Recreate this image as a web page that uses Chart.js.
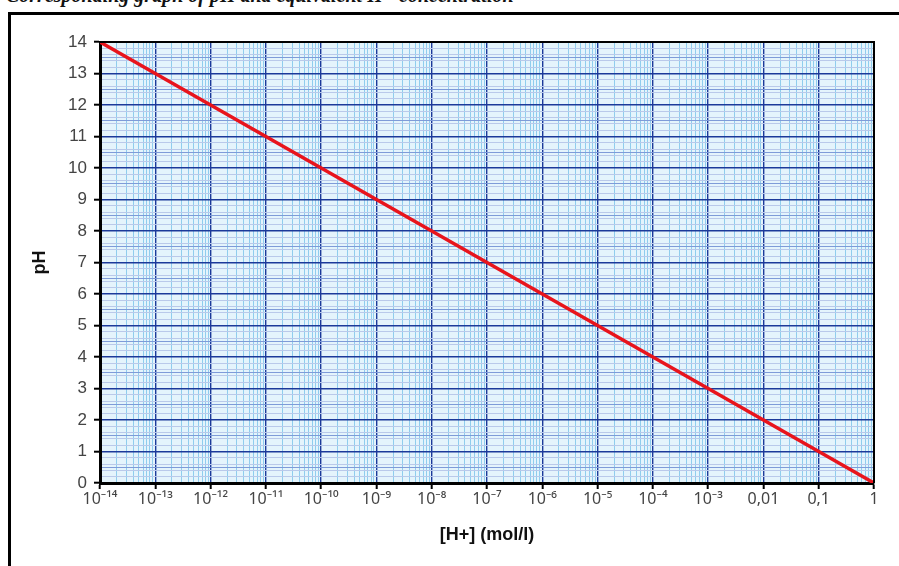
<!DOCTYPE html>
<html>
<head>
<meta charset="utf-8">
<script src="https://cdn.jsdelivr.net/npm/chart.js@4.4.0/dist/chart.umd.min.js"></script>
<style>
    body { margin: 0; width: 899px; height: 566px; overflow: hidden; background: #fff; }
    #heading { position: absolute; left: 6px; top: -16px; font: italic bold 20px "Liberation Serif", "Times New Roman", serif; color: #111; white-space: nowrap; }
    #frame { position: absolute; left: 8px; top: 12px; width: 1000px; height: 700px; border-left: 3px solid #000; border-top: 3px solid #000; }
    #wrap { position: absolute; left: 0; top: 0; width: 899px; height: 566px; }
</style>
</head>
<body>
<div id="heading">Corresponding graph of pH and equivalent H+ concentration</div>
<div id="frame"></div>
<div id="wrap"><canvas id="chart" width="899" height="566"></canvas></div>
<script>
// valeurs
const concentrations = [1e-14, 1e-13, 1e-12, 1e-11, 1e-10, 1e-9, 1e-8, 1e-7, 1e-6, 1e-5, 1e-4, 1e-3, 0.01, 0.1, 1];
const phValues = [14, 13, 12, 11, 10, 9, 8, 7, 6, 5, 4, 3, 2, 1, 0];
const xTickLabels = ['10⁻¹⁴', '10⁻¹³', '10⁻¹²', '10⁻¹¹', '10⁻¹⁰', '10⁻⁹', '10⁻⁸', '10⁻⁷', '10⁻⁶', '10⁻⁵', '10⁻⁴', '10⁻³', '0,01', '0,1', '1'];
const yTickLabels = ['0', '1', '2', '3', '4', '5', '6', '7', '8', '9', '10', '11', '12', '13', '14'];

function isDecade(v) {
    const l = Math.log10(v);
    return Math.abs(l - Math.round(l)) < 1e-6;
}

function yKind(v) {
    const t = Math.round(v * 10);
    if (t % 10 === 0) return 'major';
    if (t % 5 === 0) return 'half';
    if (t % 2 === 0) return 'minor';
    return 'none';
}

// fond et cadre de la zone du graphique
const paperPlugin = {
    id: 'paper',
    beforeDraw(chart) {
        const { ctx, chartArea: a } = chart;
        ctx.save();
        ctx.fillStyle = '#e4f4fc';
        ctx.fillRect(a.left, a.top, a.right - a.left, a.bottom - a.top);
        ctx.restore();
    },
    afterDatasetsDraw(chart) {
        const { ctx, chartArea: a } = chart;
        ctx.save();
        ctx.strokeStyle = '#000';
        ctx.lineWidth = 2;
        ctx.beginPath();
        ctx.moveTo(a.left, a.top);
        ctx.lineTo(a.right, a.top);
        ctx.lineTo(a.right, a.bottom);
        ctx.stroke();
        ctx.restore();
    }
};

const ctx = document.getElementById('chart').getContext('2d');
new Chart(ctx, {
    type: 'line',
    data: {
        datasets: [{
            data: concentrations.map((c, i) => ({ x: c, y: phValues[i] })),
            borderColor: '#e8141c',
            borderWidth: 3.5,
            pointRadius: 0,
            tension: 0
        }]
    },
    options: {
        responsive: false,
        animation: false,
        devicePixelRatio: 1,
        layout: { padding: { left: 0, top: 42, right: 25, bottom: 0 } },
        plugins: { legend: { display: false }, tooltip: { enabled: false } },
        scales: {
            x: {
                type: 'logarithmic',
                min: 1e-14,
                max: 1,
                afterBuildTicks(scale) {
                    const ticks = [];
                    for (let e = -14; e <= 0; e++) {
                        for (let m = 1; m <= 9; m++) {
                            const v = m * Math.pow(10, e);
                            if (v > 1.0000001) break;
                            ticks.push({ value: v });
                        }
                    }
                    scale.ticks = ticks;
                },
                afterFit(scale) { scale.height = 83; },
                border: { color: '#000', width: 3 },
                grid: {
                    color: c => isDecade(c.tick.value) ? '#1c3a9a' : '#8fcdee',
                    lineWidth: c => isDecade(c.tick.value) ? 1.4 : 1,
                    tickColor: c => isDecade(c.tick.value) ? '#000' : 'rgba(0,0,0,0)',
                    tickLength: 6,
                    tickWidth: 2
                },
                ticks: {
                    autoSkip: false,
                    maxRotation: 0,
                    padding: 1,
                    color: '#444',
                    font: { family: '"Noto Sans", "Liberation Sans", Arial, sans-serif', size: 16 },
                    callback(value) {
                        if (!isDecade(value)) return '';
                        return xTickLabels[Math.round(Math.log10(value)) + 14];
                    }
                },
                title: {
                    display: true,
                    text: '[H+] (mol/l)',
                    color: '#111',
                    font: { family: '"Liberation Sans", Arial, sans-serif', size: 18, weight: 'bold' },
                    padding: { top: 4, bottom: 20 }
                }
            },
            y: {
                min: 0,
                max: 14,
                afterBuildTicks(scale) {
                    const ticks = [];
                    for (let t = 0; t <= 140; t++) ticks.push({ value: t / 10 });
                    scale.ticks = ticks;
                },
                afterFit(scale) { scale.width = 100; },
                border: { color: '#000', width: 3 },
                grid: {
                    color: c => {
                        const k = yKind(c.tick.value);
                        if (k === 'major') return '#1c3a9a';
                        if (k === 'half') return '#7e9bd8';
                        if (k === 'minor') return '#b9c9ea';
                        return 'rgba(0,0,0,0)';
                    },
                    lineWidth: c => yKind(c.tick.value) === 'major' ? 1.4 : 1,
                    tickColor: c => yKind(c.tick.value) === 'major' ? '#000' : 'rgba(0,0,0,0)',
                    tickLength: 6,
                    tickWidth: 2
                },
                ticks: {
                    autoSkip: false,
                    padding: 7,
                    color: '#444',
                    font: { family: '"Liberation Sans", Arial, sans-serif', size: 17 },
                    callback(value) {
                        if (yKind(value) !== 'major') return '';
                        return yTickLabels[Math.round(value)];
                    }
                },
                title: {
                    display: true,
                    text: 'pH',
                    color: '#111',
                    font: { family: '"Liberation Sans", Arial, sans-serif', size: 18, weight: 'bold' },
                    padding: { top: 29, bottom: 0 }
                }
            }
        }
    },
    plugins: [paperPlugin]
});
</script>
</body>
</html>
